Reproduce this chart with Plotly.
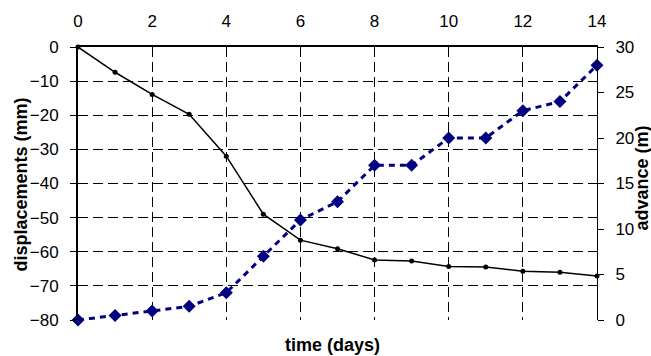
import plotly.graph_objects as go

days = list(range(15))
displacement_mm = [0, -7.4, -13.9, -19.7, -32.0, -49.0, -56.6, -59.1, -62.4, -62.7,
                   -64.3, -64.5, -65.7, -66.0, -67.1]
advance_m = [0, 0.5, 1, 1.5, 3, 7, 11, 13, 17, 17, 20, 20, 23, 24, 28]

x_ticks = list(range(0, 15, 2))
y1_ticks = list(range(-80, 1, 10))
y2_ticks = list(range(0, 31, 5))

FONT = "Liberation Sans, Arial, sans-serif"

fig = go.Figure()
fig.add_trace(go.Scatter(
    x=days, y=displacement_mm, mode="lines+markers", yaxis="y",
    line=dict(color="black", width=1.5),
    marker=dict(symbol="circle", size=5, color="black"),
    cliponaxis=False, showlegend=False))
fig.add_trace(go.Scatter(
    x=days, y=advance_m, mode="lines+markers", yaxis="y2",
    line=dict(color="#000080", width=3, dash="6px,5px"),
    marker=dict(symbol="diamond", size=10, color="#000080"),
    cliponaxis=False, showlegend=False))

fig.update_layout(
    width=651, height=356,
    margin=dict(l=78, r=54, t=47, b=36, autoexpand=False),
    paper_bgcolor="white", plot_bgcolor="white",
    font=dict(family=FONT, size=17, color="black"),
    xaxis=dict(side="top", range=[0, 14], tickvals=x_ticks,
               showgrid=True, gridcolor="black", gridwidth=1, griddash="10px,5px",
               showline=True, linecolor="black", linewidth=2,
               ticks="inside", ticklen=6, tickcolor="black",
               ticklabelstandoff=11, zeroline=False),
    yaxis=dict(range=[-80, 0], tickvals=y1_ticks,
               showgrid=True, gridcolor="black", gridwidth=1, griddash="10px,5px",
               showline=True, linecolor="black", linewidth=2,
               ticks="outside", ticklen=6, tickcolor="black",
               ticklabelstandoff=8, zeroline=False),
    yaxis2=dict(range=[0, 30], tickvals=y2_ticks, overlaying="y", side="right",
                showgrid=False, showline=True, linecolor="black", linewidth=1,
                ticks="outside", ticklen=6, tickcolor="black",
                ticklabelstandoff=8, zeroline=False),
    annotations=[
        dict(text="<b>time (days)</b>", xref="paper", yref="paper", x=0.5, y=0,
             xshift=-5, yshift=-25, showarrow=False, font=dict(size=18),
             yanchor="middle", xanchor="center"),
        dict(text="<b>displacements (mm)</b>", xref="paper", yref="paper", x=0, y=0.5,
             xshift=-58, yshift=-1, textangle=-90, showarrow=False, font=dict(size=18),
             xanchor="center", yanchor="middle"),
        dict(text="<b>advance (m)</b>", xref="paper", yref="paper", x=1, y=0.5,
             xshift=44, yshift=5, textangle=-90, showarrow=False, font=dict(size=18),
             xanchor="center", yanchor="middle"),
    ],
)

fig.write_html("out.html", config={"displayModeBar": False},
               post_script="document.body.style.margin='0';")
